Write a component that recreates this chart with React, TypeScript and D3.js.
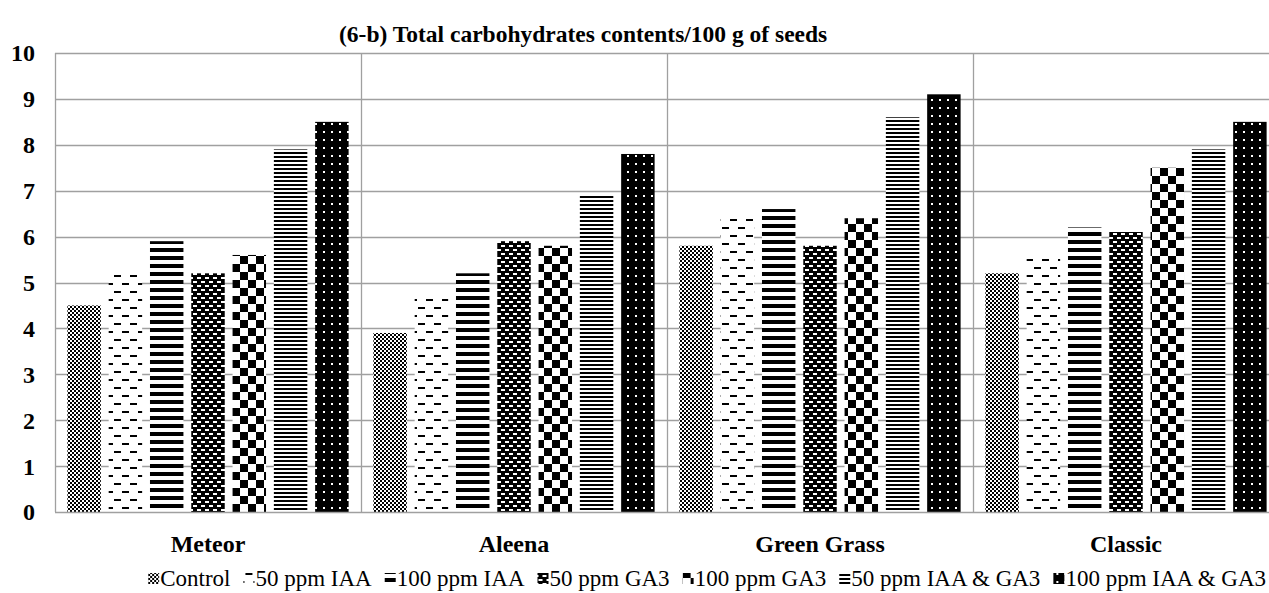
import React, { useEffect, useRef } from "react";
import * as d3 from "d3";

const TITLE = "(6-b) Total carbohydrates contents/100 g of seeds";
const categories = ["Meteor", "Aleena", "Green Grass", "Classic"];
const seriesNames = [
  "Control",
  "50 ppm IAA",
  "100 ppm IAA",
  "50 ppm GA3",
  "100 ppm GA3",
  "50 ppm IAA & GA3",
  "100 ppm IAA & GA3",
];
const control = [4.5, 3.9, 5.8, 5.2];
const iaa50 = [5.2, 4.7, 6.4, 5.6];
const iaa100 = [5.9, 5.2, 6.6, 6.2];
const ga50 = [5.2, 5.9, 5.8, 6.1];
const ga100 = [5.6, 5.8, 6.4, 7.5];
const both50 = [7.9, 6.9, 8.6, 7.9];
const both100 = [8.5, 7.8, 9.1, 8.5];
const seriesValues = [control, iaa50, iaa100, ga50, ga100, both50, both100];
const yTicks = [0, 1, 2, 3, 4, 5, 6, 7, 8, 9, 10];

const W = 1269;
const H = 593;
const FONT = "'Liberation Serif', 'Times New Roman', serif";

function definePatterns(defs: d3.Selection<SVGDefsElement, unknown, null, undefined>) {
  const mk = (id: string, w: number, h: number, bg: string) => {
    const p = defs
      .append("pattern")
      .attr("id", id)
      .attr("patternUnits", "userSpaceOnUse")
      .attr("width", w)
      .attr("height", h);
    p.append("rect").attr("width", w).attr("height", h).attr("fill", bg);
    return p;
  };
  // 0 Control: fine checker
  let p = mk("p0", 4, 4, "#fff");
  p.append("rect").attr("x", 0).attr("y", 0).attr("width", 2).attr("height", 2).attr("fill", "#000");
  p.append("rect").attr("x", 2).attr("y", 2).attr("width", 2).attr("height", 2).attr("fill", "#000");
  // 1 50 ppm IAA: staggered dashes
  p = mk("p1", 16, 16, "#fff");
  p.append("rect").attr("x", 2).attr("y", 3).attr("width", 7).attr("height", 2).attr("fill", "#000");
  p.append("rect").attr("x", 10).attr("y", 11).attr("width", 7).attr("height", 2).attr("fill", "#000");
  p.append("rect").attr("x", -6).attr("y", 11).attr("width", 7).attr("height", 2).attr("fill", "#000");
  // 2 100 ppm IAA: thick horizontal stripes
  p = mk("p2", 8, 8, "#fff");
  p.append("rect").attr("x", 0).attr("y", 0).attr("width", 8).attr("height", 4).attr("fill", "#000");
  // 3 50 ppm GA3: black with white brick dashes
  p = mk("p3", 8, 8, "#000");
  p.append("rect").attr("x", 1).attr("y", 1).attr("width", 4).attr("height", 2).attr("fill", "#fff");
  p.append("rect").attr("x", 5).attr("y", 5).attr("width", 4).attr("height", 2).attr("fill", "#fff");
  p.append("rect").attr("x", -3).attr("y", 5).attr("width", 4).attr("height", 2).attr("fill", "#fff");
  // 4 100 ppm GA3: large checker
  p = mk("p4", 16, 16, "#fff");
  p.append("rect").attr("x", 0).attr("y", 0).attr("width", 8).attr("height", 8).attr("fill", "#000");
  p.append("rect").attr("x", 8).attr("y", 8).attr("width", 8).attr("height", 8).attr("fill", "#000");
  // 5 50 ppm IAA & GA3: thin stripes
  p = mk("p5", 4, 4, "#fff");
  p.append("rect").attr("x", 0).attr("y", 0).attr("width", 4).attr("height", 2).attr("fill", "#000");
  // 6 100 ppm IAA & GA3: black with white dots
  p = mk("p6", 8, 8, "#000");
  p.append("rect").attr("x", 3).attr("y", 3).attr("width", 2).attr("height", 2).attr("fill", "#fff");
}

export default function App() {
  const ref = useRef<SVGSVGElement | null>(null);

  useEffect(() => {
    const svg = d3.select(ref.current as SVGSVGElement);
    svg.selectAll("*").remove();
    const defs = svg.append("defs");
    definePatterns(defs);

    const left = 55;
    const bandW = 306;
    const top = 53;
    const bottom = 512;

    const x0 = d3
      .scaleBand<string>()
      .domain(categories)
      .range([left, left + bandW * categories.length])
      .padding(0);
    const x1 = d3
      .scaleBand<number>()
      .domain(d3.range(seriesNames.length))
      .range([0, x0.bandwidth()])
      .paddingInner(0.19)
      .paddingOuter(0.3);
    const y = d3.scaleLinear().domain([0, 10]).range([bottom, top]);

    const grid = "#a0a0a0";
    const g = svg.append("g");
    g.selectAll("line.h")
      .data(yTicks.filter((t) => t > 0))
      .join("line")
      .attr("x1", left)
      .attr("x2", left + bandW * categories.length)
      .attr("y1", (d) => Math.round(y(d)) + 0.5)
      .attr("y2", (d) => Math.round(y(d)) + 0.5)
      .attr("stroke", grid)
      .attr("stroke-width", 1.3);
    g.selectAll("line.v")
      .data(categories.slice(1))
      .join("line")
      .attr("x1", (d) => Math.round(x0(d)!) + 0.5)
      .attr("x2", (d) => Math.round(x0(d)!) + 0.5)
      .attr("y1", top)
      .attr("y2", bottom)
      .attr("stroke", grid)
      .attr("stroke-width", 1.3);

    categories.forEach((c, ci) => {
      seriesValues.forEach((vals, si) => {
        const v = vals[ci];
        g.append("rect")
          .attr("x", x0(c)! + x1(si)!)
          .attr("y", y(v))
          .attr("width", x1.bandwidth())
          .attr("height", y(0) - y(v))
          .attr("fill", `url(#p${si})`);
      });
    });

    g.append("line")
      .attr("x1", left + 0.5)
      .attr("x2", left + 0.5)
      .attr("y1", top)
      .attr("y2", bottom)
      .attr("stroke", grid)
      .attr("stroke-width", 1.3);
    g.append("line")
      .attr("x1", left)
      .attr("x2", left + bandW * categories.length)
      .attr("y1", bottom + 0.5)
      .attr("y2", bottom + 0.5)
      .attr("stroke", grid)
      .attr("stroke-width", 1.3);

    g.selectAll("text.yt")
      .data(yTicks)
      .join("text")
      .attr("x", 35)
      .attr("y", (d) => y(d))
      .attr("dy", "0.35em")
      .attr("text-anchor", "end")
      .attr("font-family", FONT)
      .attr("font-weight", "bold")
      .attr("font-size", 24)
      .text((d) => String(d));

    g.selectAll("text.xc")
      .data(categories)
      .join("text")
      .attr("x", (d) => x0(d)! + x0.bandwidth() / 2)
      .attr("y", 552)
      .attr("text-anchor", "middle")
      .attr("font-family", FONT)
      .attr("font-weight", "bold")
      .attr("font-size", 24)
      .text((d) => d);

    svg
      .append("text")
      .attr("x", 339)
      .attr("y", 42)
      .attr("font-family", FONT)
      .attr("font-weight", "bold")
      .attr("font-size", 23.5)
      .text(TITLE);

    const lg = svg.append("g");
    const items = seriesNames.map((name, i) => {
      const gi = lg.append("g");
      gi.append("rect")
        .attr("x", 0)
        .attr("y", -13)
        .attr("width", 11)
        .attr("height", 11)
        .attr("fill", `url(#p${i})`);
      const t = gi
        .append("text")
        .attr("x", 12)
        .attr("y", 0)
        .attr("font-family", FONT)
        .attr("font-size", 23)
        .text(name);
      const tw = (t.node() as SVGTextElement).getComputedTextLength();
      return { gi, w: 12 + tw };
    });
    const gap = 13;
    const total = d3.sum(items, (d) => d.w) + gap * (items.length - 1);
    let cx = 1266 - total;
    items.forEach((it) => {
      it.gi.attr("transform", `translate(${cx},586)`);
      cx += it.w + gap;
    });
  }, []);

  return (
    <svg
      ref={ref}
      width={W}
      height={H}
      style={{ position: "absolute", left: 0, top: 0, background: "#fff" }}
    />
  );
}
